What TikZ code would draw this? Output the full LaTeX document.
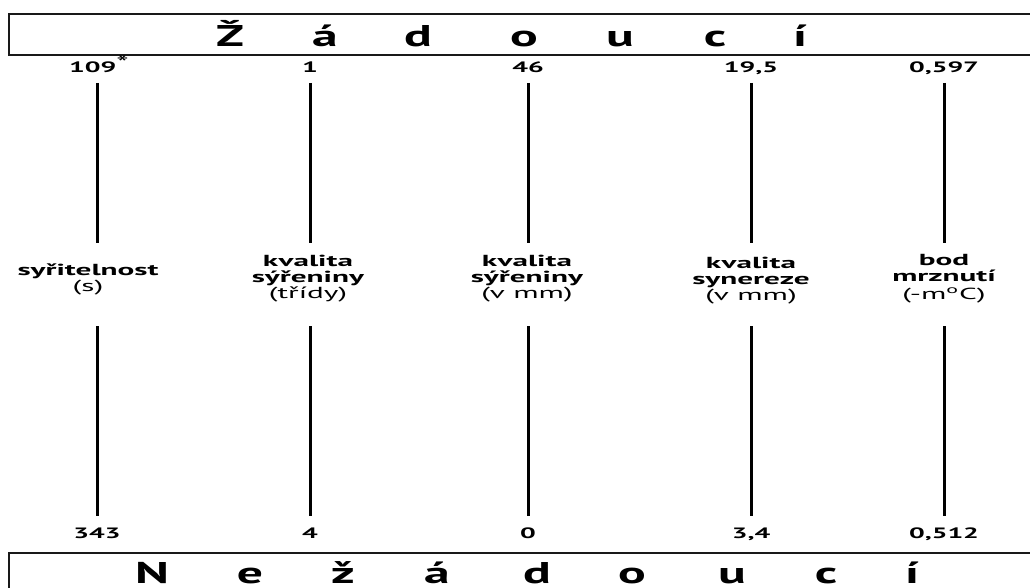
\documentclass[tikz,border=0pt]{standalone}
\usepackage{fontspec}
\setmainfont{PT Sans}
\usetikzlibrary{positioning}

\begin{document}
\begin{tikzpicture}[
      x=1pt, y=-1pt,
      frame/.style={draw=black!90, line width=2pt},
      big/.style={font=\fontsize{30}{30}\selectfont\bfseries, xscale=1.72,
                  anchor=base, inner sep=0pt},
      val/.style={font=\fontsize{15}{15}\selectfont\bfseries, xscale=1.85,
                  anchor=base, inner sep=0pt},
      lab/.style={font=\fontsize{16}{16}\selectfont, xscale=1.95,
                  align=center, inner sep=0pt},
      bar/.style={line width=3pt}
    ]
    \clip (0,0) rectangle (1030,588);
    \useasboundingbox (0,0) rectangle (1030,588);

    % title boxes
    \draw[frame] (9,14) rectangle (1045,55);
    \draw[frame] (9,553) rectangle (1045,610);

    \node[big] (z1) at (230,47) {Ž};
    \node[big] (z2) at (325,47) {á};
    \node[big] (z3) at (418,47) {d};
    \node[big] (z4) at (524,47) {o};
    \node[big] (z5) at (620,47) {u};
    \node[big] (z6) at (715,47) {c};
    \node[big] (z7) at (800,47) {í};

    \node[big] (n1) at (152,583) {N};
    \node[big] (n2) at (250,583) {e};
    \node[big] (n3) at (343,583) {ž};
    \node[big] (n4) at (437,583) {á};
    \node[big] (n5) at (537,583) {d};
    \node[big] (n6) at (632,583) {o};
    \node[big] (n7) at (732,583) {u};
    \node[big] (n8) at (826,583) {c};
    \node[big] (n9) at (912,583) {í};

    % values, desirable end
    \node[val] (vt1) at (99,73)  {109\raisebox{3pt}{\fontsize{19}{19}\selectfont\mdseries *}};
    \node[val] (vt2) at (310,73) {1};
    \node[val] (vt3) at (528,73) {46};
    \node[val] (vt4) at (751,73) {19,5};
    \node[val] (vt5) at (944,73) {0,597};

    % values, undesirable end
    \node[val] (vb1) at (97,538)  {343};
    \node[val] (vb2) at (310,538) {4};
    \node[val] (vb3) at (528,538) {0};
    \node[val] (vb4) at (751,538) {3,4};
    \node[val] (vb5) at (944,538) {0,512};

    % parameters
    \node[lab] (lab1) at (88,279)  {\textbf{syřitelnost}\\(s)};
    \node[lab] (lab2) at (308,279) {\textbf{kvalita}\\\textbf{sýřeniny}\\(třídy)};
    \node[lab] (lab3) at (527,279) {\textbf{kvalita}\\\textbf{sýřeniny}\\(v mm)};
    \node[lab] (lab4) at (751,281) {\textbf{kvalita}\\\textbf{synereze}\\(v mm)};
    \node[lab] (lab5) at (944,279) {\textbf{bod}\\\textbf{mrznutí}\\[2pt](-m\textsuperscript{o}C)};

    \draw[bar, shorten <=10pt, shorten >=36pt] (vb1.base |- vt1.base) -- (vb1.base |- lab1.center);
    \draw[bar, shorten <=10pt, shorten >=36pt] (vt2.base) -- (vb2.base |- lab2.center);
    \draw[bar, shorten <=10pt, shorten >=36pt] (vt3.base) -- (vb3.base |- lab3.center);
    \draw[bar, shorten <=10pt, shorten >=38pt] (vt4.base) -- (vb4.base |- lab4.center);
    \draw[bar, shorten <=10pt, shorten >=36pt] (vt5.base) -- (vb5.base |- lab5.center);

    \draw[bar, shorten <=47pt, shorten >=22pt] (vb1.base |- lab1.center) -- (vb1.base);
    \draw[bar, shorten <=47pt, shorten >=22pt] (vb2.base |- lab2.center) -- (vb2.base);
    \draw[bar, shorten <=47pt, shorten >=22pt] (vb3.base |- lab3.center) -- (vb3.base);
    \draw[bar, shorten <=45pt, shorten >=22pt] (vb4.base |- lab4.center) -- (vb4.base);
    \draw[bar, shorten <=47pt, shorten >=22pt] (vb5.base |- lab5.center) -- (vb5.base);
  \end{tikzpicture}
\end{document}
